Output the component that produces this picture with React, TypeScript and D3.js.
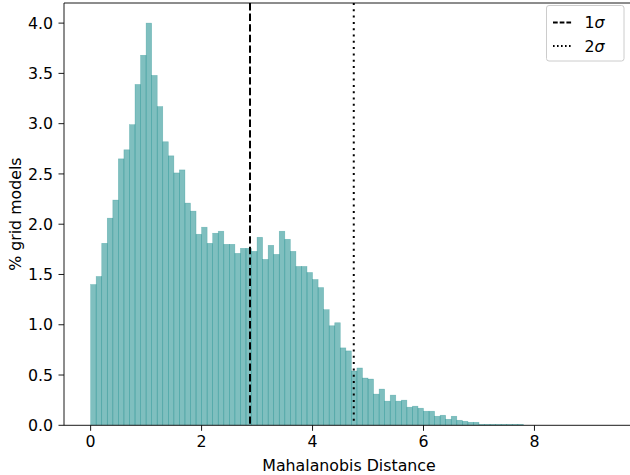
import React from "react";
import * as d3 from "d3";

// Histogram of Mahalanobis distance, bin width 0.1 starting at 0
const binStart = 0;
const binWidth = 0.1;
const percentValues = [
  1.40, 1.48, 1.81, 2.06, 2.24, 2.65, 2.74, 2.99, 3.39, 3.68,
  4.00, 3.48, 3.17, 2.82, 2.68, 2.51, 2.54, 2.21, 2.13, 1.90,
  1.97, 1.81, 1.91, 1.93, 1.80, 1.80, 1.71, 1.76, 1.76, 1.73,
  1.87, 1.65, 1.79, 1.70, 1.93, 1.85, 1.73, 1.58, 1.58, 1.52,
  1.45, 1.37, 1.15, 0.99, 1.02, 0.77, 0.74, 0.54, 0.57, 0.47,
  0.46, 0.31, 0.36, 0.24, 0.30, 0.24, 0.25, 0.18, 0.19, 0.17,
  0.14, 0.14, 0.09, 0.10, 0.06, 0.09, 0.05, 0.04, 0.03, 0.03,
  0.01, 0.01, 0.01, 0.01, 0.01, 0.01, 0.01, 0.01,
];

// Threshold lines
const sigmaLabels = ["1", "2"];
const sigmaValues = [2.873, 4.743];
const sigmaDash = ["7.4,3.2", "2,4.3"];
const legendDash = ["4.7,2", "1.6,2.4"];

const xTicks = [0, 2, 4, 6, 8];
const yTicks = [0, 0.5, 1, 1.5, 2, 2.5, 3, 3.5, 4];

const W = 630;
const H = 475;
const plot = { left: 64, right: 631, top: 3, bottom: 425.3 };
const FONT = "DejaVu Sans, sans-serif";
const FS = 15.8;

export default function App() {
  const x = d3.scaleLinear().domain([-0.48, 9.74]).range([plot.left, plot.right]);
  const y = d3.scaleLinear().domain([0, 4.2]).range([plot.bottom, plot.top]);
  const fmt = d3.format(".1f");

  const bins = percentValues.map((v, i) => ({
    x0: binStart + i * binWidth,
    x1: binStart + (i + 1) * binWidth,
    v,
  }));

  const legend = { x: 546.5, y: 5.5, w: 77.5, h: 55.5 };

  return (
    <svg
      width={W}
      height={H}
      style={{ position: "absolute", left: 0, top: 0, background: "#fff" }}
      fontFamily={FONT}
    >
      <defs>
        <clipPath id="plotArea">
          <rect x={plot.left} y={plot.top} width={plot.right - plot.left} height={plot.bottom - plot.top} />
        </clipPath>
      </defs>

      <g clipPath="url(#plotArea)">
        {bins.map((b, i) => (
          <rect
            key={i}
            x={x(b.x0)}
            y={y(b.v)}
            width={x(b.x1) - x(b.x0)}
            height={y(0) - y(b.v)}
            fill="#008080"
            fillOpacity={0.5}
            stroke="#008080"
            strokeOpacity={0.35}
            strokeWidth={0.6}
          />
        ))}
        {sigmaValues.map((s, i) => (
          <line
            key={i}
            x1={x(s)}
            x2={x(s)}
            y1={plot.top}
            y2={plot.bottom}
            stroke="#000"
            strokeWidth={2}
            strokeDasharray={sigmaDash[i]}
          />
        ))}
      </g>

      {/* spines */}
      <line x1={plot.left} x2={plot.left} y1={plot.top} y2={plot.bottom} stroke="#000" strokeWidth={0.9} />
      <line x1={plot.left} x2={plot.right} y1={plot.bottom} y2={plot.bottom} stroke="#000" strokeWidth={0.9} />
      <line x1={plot.left} x2={plot.right} y1={plot.top} y2={plot.top} stroke="#000" strokeWidth={0.9} />
      <line x1={plot.right} x2={plot.right} y1={plot.top} y2={plot.bottom} stroke="#000" strokeWidth={0.9} />

      {/* x axis */}
      {xTicks.map((t) => (
        <g key={t} transform={`translate(${x(t)},${plot.bottom})`}>
          <line y2={5.5} stroke="#000" strokeWidth={0.9} />
          <text y={22} textAnchor="middle" fontSize={FS} fill="#000">
            {t}
          </text>
        </g>
      ))}
      <text x={349} y={471} textAnchor="middle" fontSize={FS} fill="#000">
        Mahalanobis Distance
      </text>

      {/* y axis */}
      {yTicks.map((t) => (
        <g key={t} transform={`translate(${plot.left},${y(t)})`}>
          <line x2={-5.5} stroke="#000" strokeWidth={0.9} />
          <text x={-11} dy="0.36em" textAnchor="end" fontSize={FS} fill="#000">
            {fmt(t)}
          </text>
        </g>
      ))}
      <text
        transform={`translate(21,${(plot.top + plot.bottom) / 2}) rotate(-90)`}
        textAnchor="middle"
        fontSize={FS}
        fill="#000"
      >
        % grid models
      </text>

      {/* legend */}
      <rect
        x={legend.x}
        y={legend.y}
        width={legend.w}
        height={legend.h}
        rx={2.5}
        fill="#fff"
        fillOpacity={0.8}
        stroke="#ccc"
        strokeWidth={1}
      />
      {sigmaLabels.map((lab, i) => {
        const cy = 22.5 + i * 23.5;
        return (
          <g key={lab}>
            <line
              x1={553}
              x2={572}
              y1={cy}
              y2={cy}
              stroke="#000"
              strokeWidth={1.8}
              strokeDasharray={legendDash[i]}
            />
            <text x={584.5} y={cy} dy="0.36em" fontSize={FS} fill="#000">
              {lab}
              <tspan fontStyle="italic">σ</tspan>
            </text>
          </g>
        );
      })}
    </svg>
  );
}
